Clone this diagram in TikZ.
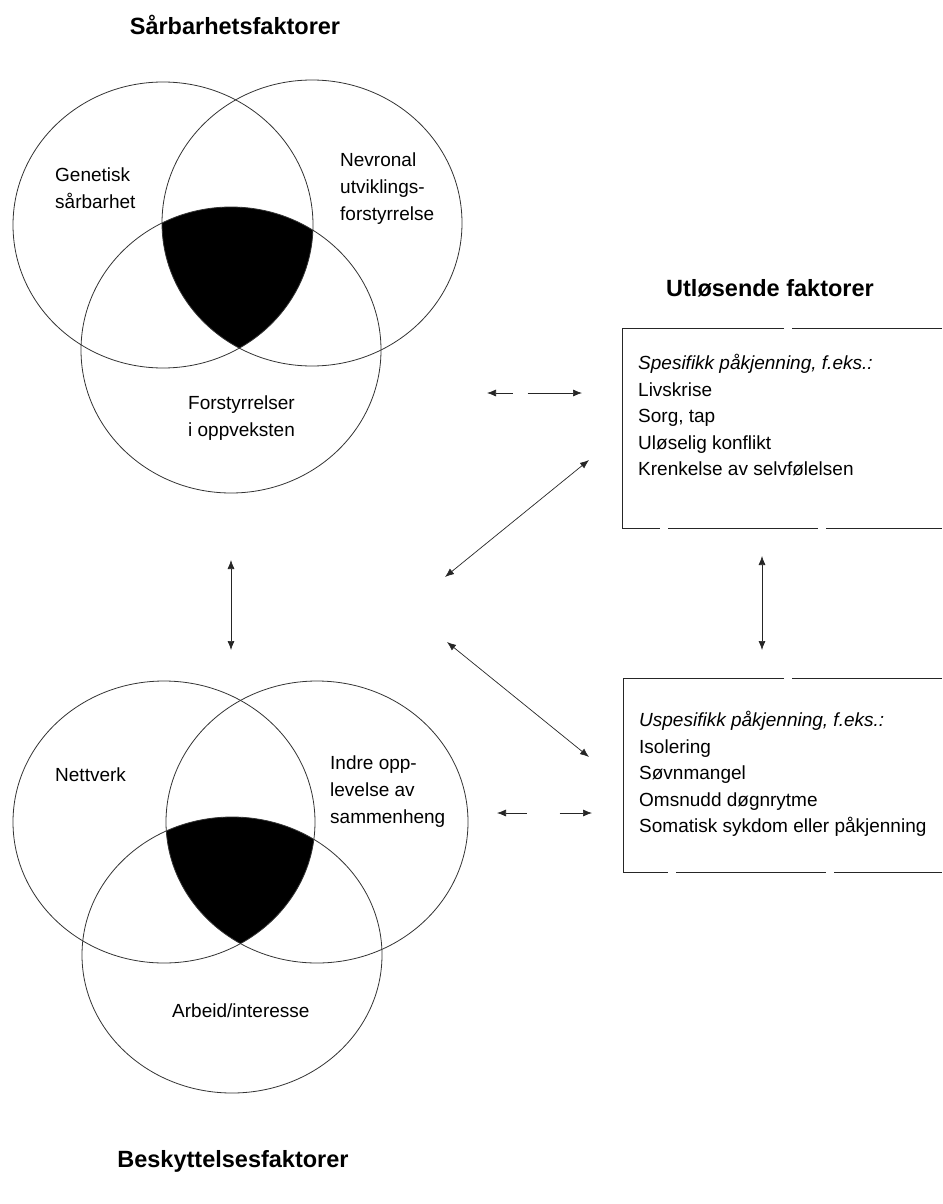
\documentclass[tikz,border=0pt]{standalone}
\usepackage{fontspec}
\setmainfont{Liberation Sans}
\usetikzlibrary{arrows.meta,positioning}
\tikzset{
  rund/.style={x radius=150,y radius=143},
  sirkel/.style={rund,draw=black!80,line width=0.8pt},
  tittel/.style={inner sep=0pt,font=\fontsize{23.5}{28}\selectfont\bfseries},
  etikett/.style={anchor=north west,inner sep=0pt,align=left,font=\fontsize{19}{26.6}\selectfont},
  ramme/.style={draw=black!85,line width=0.9pt,dash pattern=on 150pt off 8pt on 400pt off 8pt},
  pil/.style={<->,>={Latex[length=9pt,width=7pt]},line width=0.7pt,black!85}
}

\begin{document}
\begin{tikzpicture}[x=1pt,y=-1pt]
\useasboundingbox (0,0) rectangle (942,1204);
\begin{scope}
\clip[rund] (163,225) ellipse;
\clip[rund] (312,223) ellipse;
\fill[rund] (231,350) ellipse;
\end{scope}
\draw[sirkel] (163,225) ellipse;
\draw[sirkel] (312,223) ellipse;
\draw[sirkel] (231,350) ellipse;
\begin{scope}[rund/.append style={x radius=151,y radius=141}]
\clip[rund] (164,822) ellipse;
\clip[rund] (317,822) ellipse;
\fill[rund,x radius=150,y radius=138] (232,955) ellipse;
\end{scope}
\draw[sirkel,x radius=151,y radius=141] (164,822) ellipse;
\draw[sirkel,x radius=151,y radius=141] (317,822) ellipse;
\draw[sirkel,y radius=138] (232,955) ellipse;
\node[tittel] (saarbar) at (235,25) {Sårbarhetsfaktorer};
\node[tittel] (beskytt) at (233,1161) {Beskyttelsesfaktorer};
\node[tittel] (utlos) at (770,288) {Utløsende faktorer};
\node[etikett] (genetisk) at (55,168) {Genetisk\\sårbarhet};
\node[etikett] (nevronal) at (340,153) {Nevronal\\utviklings-\\forstyrrelse};
\node[etikett] (oppvekst) at (188,396) {Forstyrrelser\\i oppveksten};
\node[etikett] (nettverk) at (55,768) {Nettverk};
\node[etikett] (indre) at (330,756) {Indre opp-\\levelse av\\sammenheng};
\node[etikett] (arbeid) at (172,1004) {Arbeid/interesse};
\draw[ramme] (942,328) -| (622,528) -- (942,528);
\node[etikett] (spesifikk) at (638,354) {\textit{Spesifikk påkjenning, f.eks.:}\\Livskrise\\Sorg, tap\\Uløselig konflikt\\Krenkelse av selvfølelsen};
\draw[ramme] (942,678) -| (623,872) -- (942,872);
\node[etikett] (uspesifikk) at (639,711) {\textit{Uspesifikk påkjenning, f.eks.:}\\Isolering\\Søvnmangel\\Omsnudd døgnrytme\\Somatisk sykdom eller påkjenning};
\coordinate (venstre-topp) at (231,560);
\coordinate (venstre-bunn) at (231,650);
\coordinate (hoyre-topp) at (762,556);
\coordinate (hoyre-bunn) at (762,650);
\coordinate (skraa1-a) at (445,577);
\coordinate (skraa1-b) at (589,460);
\coordinate (skraa2-a) at (447,642);
\coordinate (skraa2-b) at (589,757);
\coordinate (vannrett1-a) at (487,393);
\coordinate (vannrett1-b) at (582,393);
\coordinate (vannrett2-a) at (497,813);
\coordinate (vannrett2-b) at (592,813);
\draw[pil] (venstre-topp) -- (venstre-bunn);
\draw[pil] (hoyre-topp) -- (hoyre-bunn);
\draw[pil] (skraa1-a) -- (skraa1-b);
\draw[pil] (skraa2-a) -- (skraa2-b);
\draw[pil,dash pattern=on 17pt off 15pt on 200pt] (vannrett1-a) -- (vannrett1-b);
\draw[pil,dash pattern=on 21pt off 33pt on 200pt] (vannrett2-a) -- (vannrett2-b);
\end{tikzpicture}
\end{document}
